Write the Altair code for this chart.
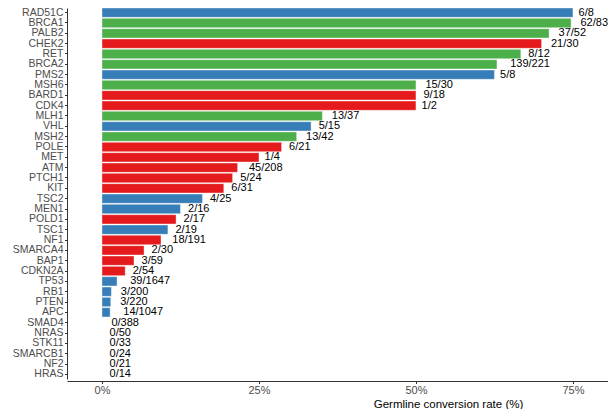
import altair as alt
import pandas as pd

genes = ["RAD51C", "BRCA1", "PALB2", "CHEK2", "RET", "BRCA2", "PMS2", "MSH6",
         "BARD1", "CDK4", "MLH1", "VHL", "MSH2", "POLE", "MET", "ATM", "PTCH1",
         "KIT", "TSC2", "MEN1", "POLD1", "TSC1", "NF1", "SMARCA4", "BAP1",
         "CDKN2A", "TP53", "RB1", "PTEN", "APC", "SMAD4", "NRAS", "STK11",
         "SMARCB1", "NF2", "HRAS"]
carriers = [6, 62, 37, 21, 8, 139, 5, 15, 9, 1, 13, 5, 13, 6, 1, 45, 5, 6, 4, 2,
            2, 2, 18, 2, 3, 2, 39, 3, 3, 14, 0, 0, 0, 0, 0, 0]
totals = [8, 83, 52, 30, 12, 221, 8, 30, 18, 2, 37, 15, 42, 21, 4, 208, 24, 31,
          25, 16, 17, 19, 191, 30, 59, 54, 1647, 200, 220, 1047, 388, 50, 33,
          24, 21, 14]
rates = [75.0, 74.7, 71.2, 70.0, 66.7, 62.9, 62.5, 50.0, 50.0, 50.0, 35.1, 33.3,
         31.0, 28.6, 25.0, 21.6, 20.8, 19.4, 16.0, 12.5, 11.8, 10.5, 9.4, 6.7,
         5.1, 3.7, 2.4, 1.5, 1.4, 1.3, 0, 0, 0, 0, 0, 0]
groups = ["B", "G", "G", "R", "G", "G", "B", "G", "R", "R", "G", "B", "G", "R",
          "R", "R", "R", "R", "B", "B", "R", "B", "R", "R", "R", "R", "B", "B",
          "B", "B", "B", "B", "B", "B", "B", "B"]
group_names = ["B", "G", "R"]
group_colors = ["#377EB8", "#4DAF4A", "#E41A1C"]
x_ticks = [0, 25, 50, 75]

labels = [f"{a}/{b}" for a, b in zip(carriers, totals)]
df = pd.DataFrame({"gene": genes, "rate": rates, "group": groups,
                   "label": labels, "base": [0] * len(genes)})

FONT = "Liberation Sans"
xscale = alt.Scale(domain=[-5.57, 80.58], nice=False, zero=False)
xaxis = alt.Axis(values=x_ticks, labelExpr="datum.value + '%'",
                 title="Germline conversion rate (%)", grid=False,
                 domainColor="#333333", domainWidth=1, offset=2,
                 tickColor="#333333", tickSize=2.5,
                 labelFont=FONT, labelFontSize=11,
                 labelColor="#4D4D4D", labelPadding=1,
                 titleFont=FONT, titleFontSize=11.5,
                 titleFontWeight="normal", titleColor="black",
                 titleX=381, titleY=26, titleAlign="center",
                 titleBaseline="alphabetic")
yaxis = alt.Axis(domainColor="#333333", domainWidth=1,
                 tickColor="#333333", tickSize=2.5, tickWidth=1,
                 labelFont=FONT, labelFontSize=10.5,
                 labelColor="#4D4D4D", labelPadding=1.5, grid=False)
yscale = alt.Scale(paddingInner=0.1, paddingOuter=0.0)

bars = alt.Chart(df).mark_bar(stroke="white", strokeWidth=0.4).encode(
    x=alt.X("rate:Q", scale=xscale, axis=xaxis,
            title="Germline conversion rate (%)"),
    x2="base:Q",
    y=alt.Y("gene:N", sort=genes, title=None, scale=yscale, axis=yaxis),
    color=alt.Color("group:N", scale=alt.Scale(domain=group_names,
                                               range=group_colors),
                    legend=None),
)

text = alt.Chart(df).transform_calculate(
    lx="datum.rate + length(datum.label) * 0.3"
).mark_text(align="left", baseline="middle", font=FONT, fontSize=11,
            color="black").encode(
    x=alt.X("lx:Q", scale=xscale, axis=xaxis,
            title="Germline conversion rate (%)"),
    y=alt.Y("gene:N", sort=genes, title=None, scale=yscale, axis=yaxis),
    text="label:N",
)

chart = alt.layer(bars, text).properties(
    width=541, height=371,
    padding={"left": 59, "top": 0, "right": 0, "bottom": 30},
    autosize="none", background="white",
).configure_view(stroke=None)

chart.save("out.html", embed_options={"renderer": "svg", "actions": False})
